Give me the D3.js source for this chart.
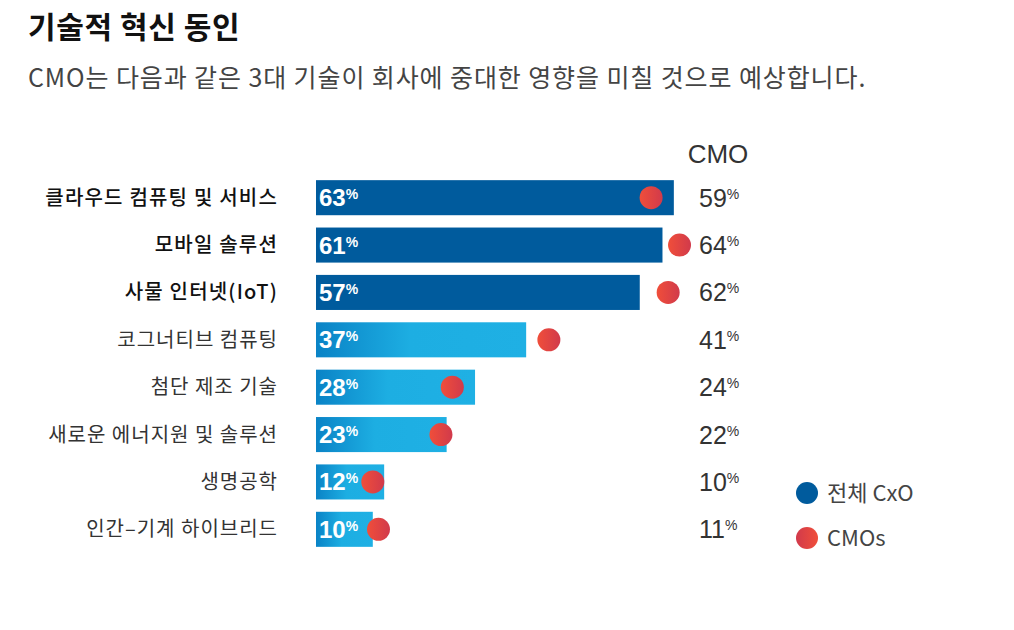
<!DOCTYPE html>
<html>
<head>
<meta charset="utf-8">
<script src="https://cdn.jsdelivr.net/npm/d3@7"></script>
<style>
body { margin: 0; background: #fff; }
svg text { font-family: "Noto Sans CJK KR", "Noto Sans", sans-serif; }
.num { font-family: "Liberation Sans", Arial, sans-serif !important; }
</style>
</head>
<body>
<div id="chart"></div>
<script>
var categories = ["클라우드 컴퓨팅 및 서비스", "모바일 솔루션", "사물 인터넷(IoT)", "코그너티브 컴퓨팅",
	"첨단 제조 기술", "새로운 에너지원 및 솔루션", "생명공학", "인간–기계 하이브리드"];
var allCxo = [63, 61, 57, 37, 28, 23, 12, 10];
var cmos = [59, 64, 62, 41, 24, 22, 10, 11];
var topThree = [true, true, true, false, false, false, false, false];
var legendLabels = ["전체 CxO", "CMOs"];

var width = 1014, height = 630;
var svg = d3.select("#chart").append("svg")
	.attr("width", width)
	.attr("height", height);

var defs = svg.append("defs");
var barGrad = defs.append("linearGradient").attr("id", "barGrad");
barGrad.append("stop").attr("offset", "0%").attr("stop-color", "#0a83c6");
barGrad.append("stop").attr("offset", "45%").attr("stop-color", "#1daee2");
barGrad.append("stop").attr("offset", "100%").attr("stop-color", "#1fb0e4");

var dotGrad = defs.append("linearGradient").attr("id", "dotGrad");
dotGrad.append("stop").attr("offset", "0%").attr("stop-color", "#f04e3a");
dotGrad.append("stop").attr("offset", "100%").attr("stop-color", "#d13a4b");

var dotGradRev = defs.append("linearGradient").attr("id", "dotGradRev");
dotGradRev.append("stop").attr("offset", "0%").attr("stop-color", "#d13a4b");
dotGradRev.append("stop").attr("offset", "100%").attr("stop-color", "#f04e3a");

// title
svg.append("text")
	.attr("x", 28).attr("y", 38)
	.attr("font-size", 30).attr("font-weight", 700)
	.attr("letter-spacing", 0.6)
	.attr("fill", "#111")
	.text("기술적 혁신 동인");
svg.append("text")
	.attr("x", 28).attr("y", 87)
	.attr("font-size", 25)
	.attr("letter-spacing", 0.9)
	.attr("fill", "#444")
	.text("CMO는 다음과 같은 3대 기술이 회사에 중대한 영향을 미칠 것으로 예상합니다.");

var x = d3.scaleLinear().domain([0, 100]).range([316, 884]);
var y = d3.scaleBand().domain(categories).range([174, 553]).paddingInner(0.26).paddingOuter(0.13);

var rows = svg.selectAll("g.row")
	.data(categories)
	.enter().append("g")
	.attr("class", "row");

rows.append("rect")
	.attr("x", x(0))
	.attr("y", function(d) { return y(d); })
	.attr("width", function(d, i) { return x(allCxo[i]) - x(0); })
	.attr("height", y.bandwidth())
	.attr("fill", function(d, i) { return topThree[i] ? "#005b9d" : "url(#barGrad)"; });

rows.append("text")
	.attr("x", 278)
	.attr("y", function(d) { return y(d) + y.bandwidth() / 2 + 7; })
	.attr("text-anchor", "end")
	.attr("font-size", 20)
	.attr("letter-spacing", function(d, i) { return topThree[i] ? 1.2 : 1; })
	.attr("font-weight", function(d, i) { return topThree[i] ? 500 : 400; })
	.attr("fill", function(d, i) { return topThree[i] ? "#111" : "#333"; })
	.text(function(d) { return d; });

// value inside bar
var inner = rows.append("text")
	.attr("class", "num")
	.attr("x", x(0) + 3)
	.attr("y", function(d) { return y(d) + y.bandwidth() / 2 + 8.5; })
	.attr("fill", "#fff")
	.attr("font-weight", 700);
inner.append("tspan").attr("font-size", 24).text(function(d, i) { return allCxo[i]; });
inner.append("tspan").attr("font-size", 14).attr("dy", -7).text("%");

// CMO dots
rows.append("circle")
	.attr("cx", function(d, i) { return x(cmos[i]); })
	.attr("cy", function(d) { return y(d) + y.bandwidth() / 2; })
	.attr("r", 11.5)
	.attr("fill", "url(#dotGrad)");

// CMO column
svg.append("text")
	.attr("class", "num")
	.attr("x", 718).attr("y", 163)
	.attr("text-anchor", "middle")
	.attr("font-size", 26)
	.attr("fill", "#333")
	.text("CMO");

var right = rows.append("text")
	.attr("class", "num")
	.attr("x", 699)
	.attr("y", function(d) { return y(d) + y.bandwidth() / 2 + 9; })
	.attr("fill", "#333");
right.append("tspan").attr("font-size", 25).text(function(d, i) { return cmos[i]; });
right.append("tspan").attr("font-size", 14).attr("dy", -8).text("%");

// legend
var legend = svg.selectAll("g.legend")
	.data(legendLabels)
	.enter().append("g")
	.attr("class", "legend")
	.attr("transform", function(d, i) { return "translate(807," + (493 + i * 45) + ")"; });
legend.append("circle")
	.attr("r", 11)
	.attr("fill", function(d, i) { return i == 0 ? "#005b9d" : "url(#dotGradRev)"; });
legend.append("text")
	.attr("x", 20).attr("y", 8)
	.attr("font-size", 22)
	.attr("fill", "#444")
	.text(function(d) { return d; });
</script>
</body>
</html>
